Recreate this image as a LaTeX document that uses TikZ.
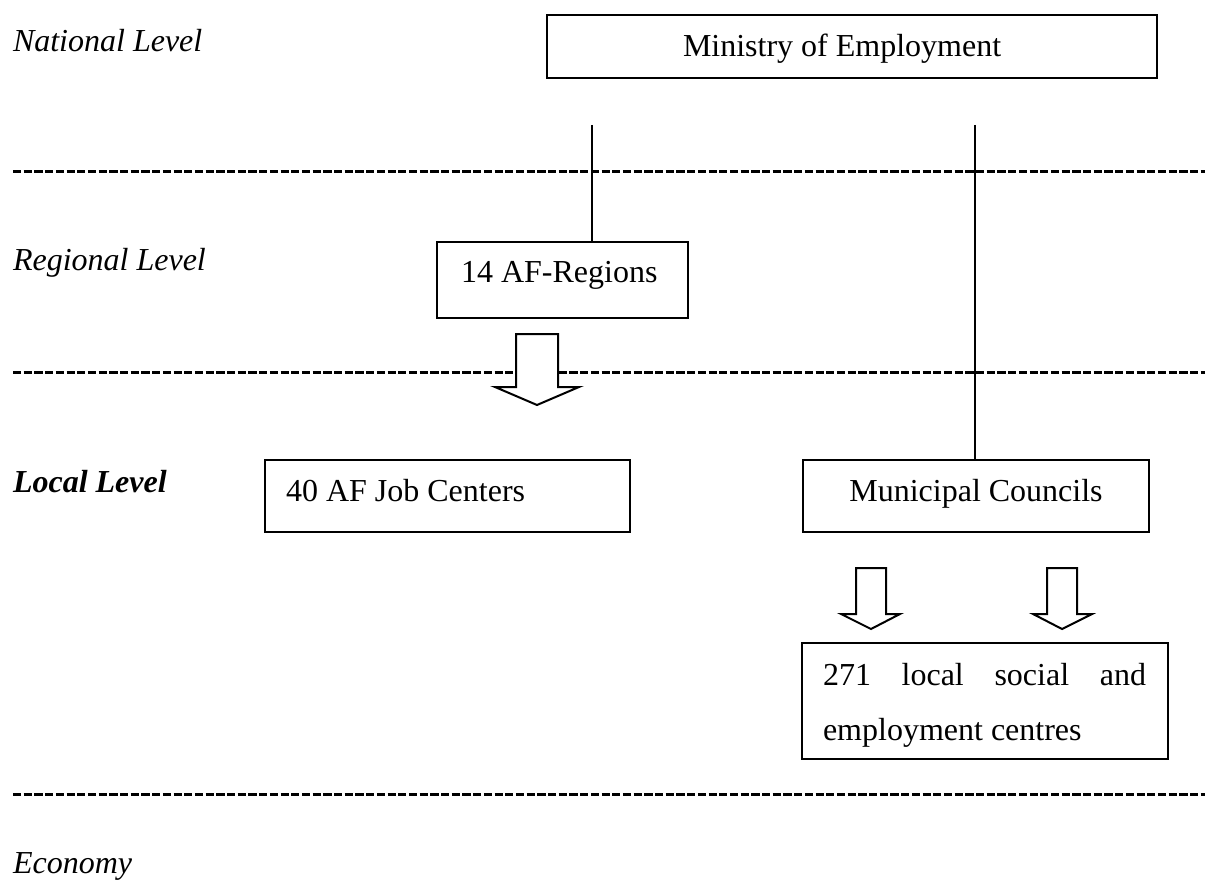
\documentclass[tikz,border=0pt]{standalone}
\usepackage{fontspec}
\setmainfont{Liberation Serif}
\begin{document}
\begin{tikzpicture}[x=1pt,y=-1pt,
  every node/.style={inner sep=0pt,outer sep=0pt,font=\fontsize{32}{55}\selectfont},
  box/.style={draw,line width=2pt,rectangle},
  levelsep/.style={line width=3pt,dash pattern=on 8.2pt off 2.5pt},
  link/.style={line width=1.6pt},
  blockarrow/.style={draw,line width=2pt,fill=white,line join=miter},
  lvl/.style={anchor=base west,font=\fontsize{32}{55}\selectfont\itshape}]
\useasboundingbox (0,0) rectangle (1205,880);

% level separators
\coordinate (s1a) at (13,172);  \coordinate (s1b) at (1205,172);
\coordinate (s2a) at (13,372);  \coordinate (s2b) at (1205,372);
\coordinate (s3a) at (13,794);  \coordinate (s3b) at (1205,794);
\draw[levelsep] (s1a) -- (s1b);
\draw[levelsep] (s2a) -- (s2b);
\draw[levelsep] (s3a) -- (s3b);

% level labels
\node[lvl] (natl) at (13,52) {National Level};
\node[lvl] (regl) at (13,270) {Regional Level};
\node[lvl,font=\fontsize{32}{55}\selectfont\bfseries\itshape] (locl) at (13,492) {Local Level};
\node[lvl] (econ) at (13,873) {Economy};

% boxes
\node[box,minimum width=610pt,minimum height=63pt] (ministry) at (852,46.5) {};
\node[anchor=base west] at (683,57) {Ministry of Employment};

\node[box,minimum width=251pt,minimum height=76pt] (regions) at (562.5,280) {};
\node[anchor=base west] at (461,282) {14 AF-Regions};

\node[box,minimum width=365pt,minimum height=72pt] (jobcentres) at (447.5,496) {};
\node[anchor=base west] at (286,501) {40 AF Job Centers};

\node[box,minimum width=346pt,minimum height=72pt] (councils) at (976,496) {};
\node[anchor=base] at (976,501) {Municipal Councils};

\node[box,minimum width=366pt,minimum height=116pt] (local) at (985,701) {};
\node[anchor=base west] at (823,685) {\makebox[323pt][s]{271\hfill local\hfill social\hfill and}};
\node[anchor=base west] at (823,740) {employment centres};

% connectors from the ministry
\coordinate (mleft) at (592,125);
\coordinate (mright) at (975,125);
\draw[link] (mleft) -- (mleft |- regions.north);
\draw[link] (mright) -- (mright |- councils.north);

% block arrows
\draw[blockarrow] (516,334) -- (558,334) -- (558,387) -- (579,387) -- (537,405)
  -- (495,387) -- (516,387) -- cycle;
\draw[blockarrow] (856,568) -- (886,568) -- (886,614) -- (900,614) -- (871,629)
  -- (841,614) -- (856,614) -- cycle;
\draw[blockarrow] (1047,568) -- (1077,568) -- (1077,614) -- (1092,614) -- (1062,629)
  -- (1033,614) -- (1047,614) -- cycle;
\end{tikzpicture}
\end{document}
